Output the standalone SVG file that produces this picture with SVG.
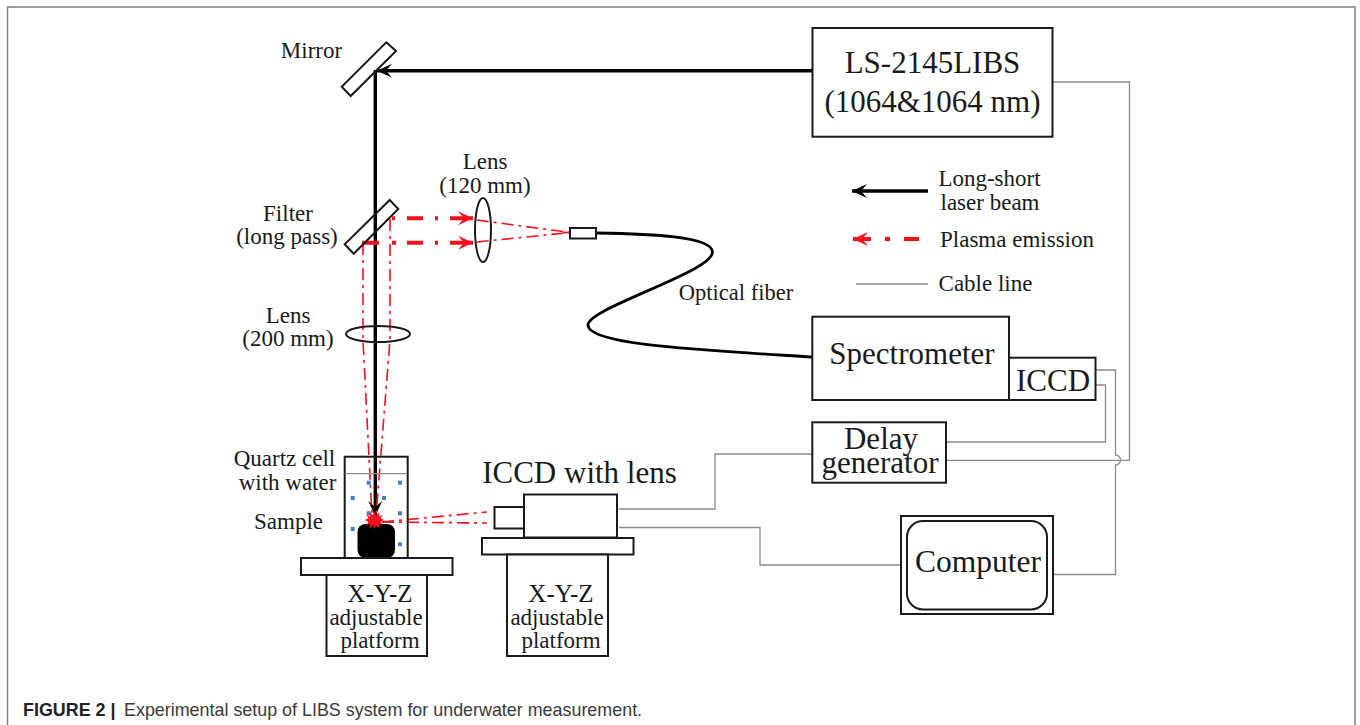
<svg xmlns="http://www.w3.org/2000/svg" width="1360" height="725" viewBox="0 0 1360 725">
<style>
text{font-family:"Liberation Serif","Times New Roman",serif;fill:#1a1a1a;text-anchor:middle;transform:translateY(.7px)}
.t23{font-size:23px}
.t31{font-size:31px}
.b{fill:#fff;stroke:#1a1a1a;stroke-width:2}
.n{fill:none;stroke:#1a1a1a;stroke-width:2}
.beam{fill:none;stroke:#000;stroke-width:3.4}
.cable{fill:none;stroke:#8c8c8c;stroke-width:1.3}
.red{fill:none;stroke:#f5101c;stroke-width:4}
.thin{fill:none;stroke:#f5101c;stroke-width:1.6;stroke-dasharray:12 5 3 5}
.dot{fill:#4a7fc0}
.cap{font-family:"Liberation Sans",Arial,sans-serif;text-anchor:start;font-size:17.9px;fill:#3a3a3a}
</style>
<defs>
<marker id="ab" markerUnits="userSpaceOnUse" markerWidth="18" markerHeight="18" refX="15" refY="8" orient="auto"><path d="M0,1 L15,8 L0,15 L6,8Z" fill="#000"/></marker>
<marker id="ar" markerUnits="userSpaceOnUse" markerWidth="18" markerHeight="18" refX="15" refY="8" orient="auto"><path d="M0,1 L15,8 L0,15 L6,8Z" fill="#f5101c"/></marker>
</defs>
<path d="M7.5,725V7H1355V725" fill="none" stroke="#808080" stroke-width="1.5"/>
<g id="connectors">
<path class="cable" d="M1053,82H1129.5V460.3H946"/>
<path class="cable" d="M1096,370H1115.5V455a5,5 0 0 1 0,10V574.5H1054"/>
<path class="cable" d="M1096,385H1105.5V442H946"/>
<path class="cable" d="M812,454H715V509H619"/>
<path class="cable" d="M901,565H760V527.5H619"/>
<path class="beam" d="M812,70.7H377" marker-end="url(#ab)"/>
<path class="beam" d="M375.3,70V516" marker-end="url(#ab)"/>
<path class="thin" d="M363,243V340L372,516"/>
<path class="thin" d="M390,219V340L376,516"/>
<path class="red" d="M392,218.3H473" stroke-dasharray="3 12 16 12 3 12 30" marker-end="url(#ar)"/>
<path class="red" d="M362,242.7H473" stroke-dasharray="17 13 4 11 16 12 3 12 30" marker-end="url(#ar)"/>
<path class="thin" d="M476.7,220L570,232.5"/>
<path class="thin" d="M476.7,242L570,232.5"/>
<path d="M563,232.5H570" stroke="#f5101c" stroke-width="1.8"/>
<path class="thin" d="M382,522L487,512"/>
<path class="thin" d="M382,522L487,523"/>
<path d="M596,233C650,234 712,236 712.5,252C713,272 588,308 588,325C588,345 700,350 812,357" fill="none" stroke="#000" stroke-width="2.8"/>
</g>
<g id="mirror"><polygon class="n" points="386.3,42.3 396,51 350.7,96 341.7,86.7"/><text class="t23" x="311.5" y="57">Mirror</text></g>
<g id="filter"><polygon class="n" points="389.7,200 398.3,209 353.7,253.7 344.7,244.3"/><text class="t23" x="288" y="220">Filter</text><text class="t23" x="287" y="243">(long pass)</text></g>
<g id="lens120"><ellipse class="n" cx="483" cy="230" rx="8" ry="32"/><text class="t23" x="485" y="168">Lens</text><text class="t23" x="485" y="192">(120 mm)</text></g>
<g id="lens200"><ellipse class="n" cx="378" cy="334" rx="32" ry="8"/><text class="t23" x="288" y="322">Lens</text><text class="t23" x="288" y="345">(200 mm)</text></g>
<g id="fiber-tip"><rect class="b" x="570" y="228" width="26" height="10.5"/></g>
<g id="fiber-label"><text x="736" y="299" font-size="22.5">Optical fiber</text></g>
<g id="laser"><rect class="b" x="812.5" y="28" width="240" height="108.7"/><text class="t31" x="932.5" y="72.3">LS-2145LIBS</text><text class="t31" x="932.5" y="111">(1064&amp;1064 nm)</text></g>
<g id="legend">
<path class="beam" d="M928,191H852" marker-end="url(#ab)"/>
<path class="red" d="M919,239H853" stroke-dasharray="15 14 5 14 30" marker-end="url(#ar)"/>
<path class="cable" d="M856,284H928"/>
<text class="t23" x="989.5" y="185">Long-short</text><text class="t23" x="990" y="209">laser beam</text>
<text class="t23" x="1017" y="246.7">Plasma emission</text>
<text class="t23" x="985.5" y="290.7">Cable line</text>
</g>
<g id="spectrometer"><rect class="b" x="812.3" y="316.7" width="196.7" height="83.3"/><text class="t31" x="912" y="363.3">Spectrometer</text></g>
<g id="iccd"><rect class="b" x="1009" y="357.7" width="86.5" height="42.3"/><text class="t31" x="1053" y="390.7">ICCD</text></g>
<g id="delay"><rect class="b" x="812.3" y="422.3" width="133.7" height="60.4"/><text class="t31" x="881" y="448">Delay</text><text class="t31" x="880" y="472.7">generator</text></g>
<g id="computer"><rect class="b" x="901" y="516" width="152" height="98"/><rect class="n" x="907" y="521" width="140" height="88.5" rx="16"/><text class="t31" x="978" y="571" style="font-size:31.5px">Computer</text></g>
<g id="cell"><rect class="n" x="344.7" y="456.7" width="63" height="101.3"/><path d="M345,473.7H407" stroke="#8c8c8c" stroke-width="1.2"/>
<text class="t23" x="284.5" y="465">Quartz cell</text><text class="t23" x="287.5" y="489">with water</text><text class="t23" x="288.5" y="528">Sample</text>
<rect class="dot" x="366.7" y="480.7" width="4" height="4"/><rect class="dot" x="398" y="480.7" width="4" height="4"/><rect class="dot" x="350.7" y="496" width="4" height="4"/><rect class="dot" x="382" y="496" width="4" height="4"/><rect class="dot" x="366.7" y="511.3" width="4" height="4"/><rect class="dot" x="398" y="511.3" width="4" height="4"/><rect class="dot" x="350.7" y="527" width="4" height="4"/><rect class="dot" x="398" y="542.3" width="4" height="4"/>
</g>
<g id="sample"><rect x="357.5" y="524" width="37.5" height="34" rx="8" fill="#000"/>
<polygon fill="#f5101c" points="374.5,511.5 376,515.5 379.5,512 379,516.5 383,514.5 380.5,518 384,520 380.5,522 383,525.5 379,524 379.5,528 376,525.5 374.5,529 373,525.5 369.5,528 370,524 366,525.5 368.5,522 365,520 368.5,518 366,514.5 370,516.5 369.5,512 373,515.5"/></g>
<g id="camera"><rect class="b" x="494.5" y="507" width="29.5" height="21.5"/><rect class="b" x="524" y="494.5" width="93" height="43"/><text class="t31" x="579.5" y="482">ICCD with lens</text></g>
<g id="platform1"><rect class="b" x="301" y="558" width="151.5" height="17"/><rect class="b" x="326.5" y="575" width="100.5" height="81"/><text x="380" y="601" font-size="25">X-Y-Z</text><text class="t23" x="376" y="624">adjustable</text><text class="t23" x="380" y="647">platform</text></g>
<g id="platform2"><rect class="b" x="482" y="538" width="151.5" height="16.5"/><rect class="b" x="507" y="554.5" width="101" height="101.5"/><text x="561" y="601" font-size="25">X-Y-Z</text><text class="t23" x="557" y="624">adjustable</text><text class="t23" x="561" y="647">platform</text></g>
<g id="caption"><text class="cap" x="23" y="715"><tspan font-weight="bold" fill="#222">FIGURE 2 | </tspan><tspan x="124">Experimental setup of LIBS system for underwater measurement.</tspan></text></g>
</svg>
